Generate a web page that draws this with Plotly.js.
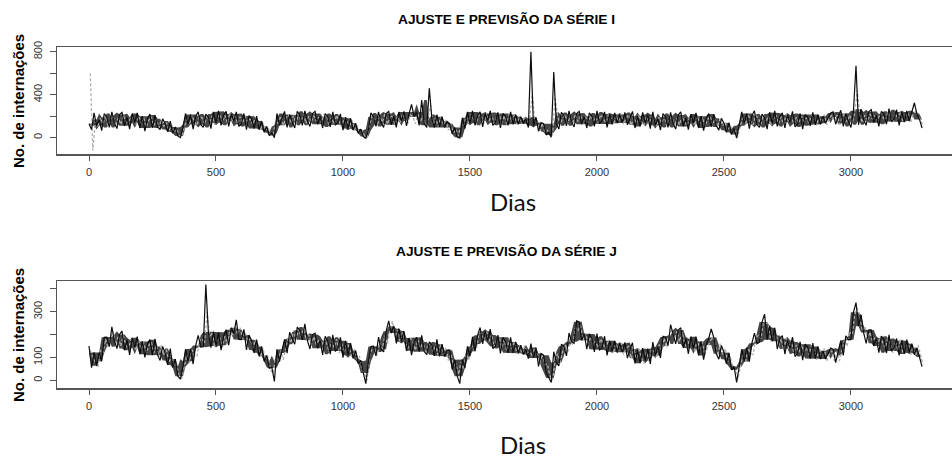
<!DOCTYPE html>
<html>
<head>
<meta charset="utf-8">
<script src="https://cdn.plot.ly/plotly-3.0.1.min.js"></script>
<style>
  html, body { margin: 0; padding: 0; background: #ffffff; }
  #chart { width: 952px; height: 462px; }
</style>
</head>
<body>
<div id="chart"></div>
<script>
// ---- Data (10-day sampling) ----
// Série I, observed (black), days 0,10,...,3280
const obsI = [
  130,75,230,110,170,65,225,190,95,240, 135,85,215,235,110,190,80,225,140,230,
  90,200,60,175,220,90,210,100,75,175, 130,55,155,40,100,15,0,
  95,225,125,215,80,200,240,120,95,220, 190,85,240,140,250,115,210,245,105,220,
  155,240,105,125,225,75,205,175,85,200, 75,155,50,105,20,45,0,
  225,115,185,245,95,215,145,90,245,210, 115,250,155,105,225,245,125,195,90,225,
  195,100,240,120,140,220,70,190,85,180, 70,135,40,80,10,-5,
  70,230,195,105,240,140,95,225,245,120, 200,95,240,155,245,110,220,310,195,240,
  115,350,130,95,460,175,95,215,100,195, 95,150,130,35,95,5,-5,
  185,85,240,135,250,115,205,240,100,225, 160,250,115,140,235,90,225,200,115,240,
  125,215,125,195,130,175,95,800,110,190, 60,140,130,25,50,5,
  610,130,80,235,205,110,250,150,100,225, 245,125,195,90,230,200,105,250,130,155,
  240,95,220,125,230,135,215,140,235,120, 185,245,90,200,105,235,135,
  215,85,240,115,175,70,225,190,95,235, 130,80,210,240,105,185,75,220,135,230,
  90,200,65,180,225,100,220,110,70,180, 135,50,140,30,85,-5,
  110,240,135,225,85,205,250,120,95,220, 185,80,235,130,250,105,195,230,90,210,
  145,245,100,125,225,80,215,190,110,235, 120,215,125,200,135,185,230,
  240,125,195,255,105,225,150,95,250,670, 120,265,165,115,240,260,140,210,105,245,
  220,125,270,150,175,260,115,240,145,250, 155,235,325,220,170,90
];
// Série I, fitted/forecast (grey), days 5,15,...,3285
const fitI = [
  600,-120,155,100,185,130,205,110,170,200, 110,185,125,210,150,115,200,180,120,200,
  130,190,100,160,195,110,170,90,165,105, 140,65,120,50,85,20,10,
  100,175,120,205,150,115,200,185,125,210, 145,205,120,185,220,140,210,135,230,155,
  215,130,195,135,200,145,175,120,185,140, 70,140,70,100,20,35,150,
  135,200,115,180,215,135,205,130,225,155, 215,135,200,145,205,155,190,140,215,210,
  115,190,125,210,145,105,185,160,90,165, 75,115,50,70,15,5,
  125,205,170,115,200,145,220,125,185,210, 120,200,140,225,165,130,215,195,130,215,
  145,205,115,175,300,125,185,105,195,115, 165,70,120,45,75,15,150,
  115,195,135,220,165,130,215,195,135,225, 155,215,130,190,220,140,205,130,220,150,
  210,125,190,130,195,140,170,400,170,140, 65,135,60,70,20,10,
  380,205,120,180,215,135,200,125,220,150, 210,130,195,140,205,155,190,140,215,180,
  140,215,180,120,205,150,220,125,185,210, 115,190,130,210,150,115,200,
  125,200,165,105,190,135,205,110,170,195, 105,180,120,205,145,110,195,175,115,200,
  130,190,105,165,200,120,180,100,175,110, 145,65,115,40,65,10,
  115,190,130,215,155,120,205,185,125,210, 140,200,115,175,210,130,195,120,215,145,
  205,125,190,135,200,150,185,135,210,175, 115,200,145,215,120,180,210,
  150,210,125,185,225,145,210,135,230,440, 220,140,210,155,220,170,205,155,230,195,
  160,235,200,140,225,170,240,145,205,230, 140,215,250,200,165,100
];
// Série J, observed (black), days 0,10,...,3280
const obsJ = [
  150,55,122,63,121,83,188,189,147,234, 171,139,200,215,132,177,111,186,144,191,
  114,170,100,159,178,110,182,111,87,148, 118,67,139,55,93,18,5,
  60,136,83,138,71,152,197,145,147,420, 211,143,213,151,210,132,192,221,154,230,
  204,265,179,178,223,133,198,174,120,178, 105,148,83,109,53,56,-5,
  136,82,131,179,119,210,183,158,233,219, 177,247,174,137,200,206,140,174,111,193,
  172,114,199,128,137,188,99,173,110,163, 96,130,73,87,32,-15,
  83,148,149,107,189,136,124,215,260,207, 237,161,226,169,216,129,185,110,169,188,
  125,197,126,112,168,153,107,179,105,158, 103,132,133,47,90,18,-15,
  91,53,148,106,190,127,197,231,159,215, 174,224,139,148,198,118,188,169,120,188,
  120,168,118,154,113,136,95,161,98,143, 61,117,110,35,10,-10,
  125,78,63,158,149,107,207,169,162,260, 256,175,204,136,203,182,124,204,133,142,
  193,109,173,125,173,121,160,123,166,97, 136,164,74,132,75,141,86,
  138,72,167,108,146,98,193,189,152,244, 196,159,220,230,142,182,116,191,139,191,
  109,170,90,154,183,225,187,116,92,153, 123,72,120,45,60,-10,
  60,136,83,143,81,162,207,160,167,255, 290,178,238,171,230,137,182,196,114,175,
  139,189,104,118,168,88,158,144,95,163, 95,148,93,129,93,116,141,
  136,77,126,174,109,195,178,178,298,340, 237,287,209,162,220,221,150,184,121,193,
  177,119,199,128,142,183,109,173,115,178, 121,160,113,142,102,60
];
// Série J, fitted/forecast (grey), days 5,15,...,3285
const fitJ = [
  132,100,81,55,131,118,180,143,189,214, 155,195,149,195,154,133,179,162,131,177,
  135,166,120,151,167,119,153,103,155,108, 134,76,110,62,70,20,10,
  60,110,79,135,109,103,174,182,161,300, 185,211,145,176,187,144,193,158,225,193,
  239,201,230,182,211,171,182,142,177,146, 100,141,93,100,43,30,100,
  85,131,90,141,187,164,218,178,225,188, 234,176,200,157,191,156,177,142,182,166,
  125,171,143,180,118,159,122,172,141,100, 136,93,105,43,30,0,
  112,137,136,110,166,138,195,158,219,259, 190,220,169,210,169,138,184,172,131,177,
  140,171,115,156,167,124,158,108,160,113, 144,86,115,67,70,25,80,
  50,115,89,155,134,133,204,207,176,217, 170,201,145,176,192,144,178,128,180,138,
  169,116,155,117,151,116,137,102,142,116, 75,116,68,70,20,0,
  85,116,80,126,157,119,178,153,230,218, 239,176,205,162,191,156,172,142,182,156,
  137,177,151,120,161,128,165,113,139,149, 95,135,94,140,99,73,124,
  87,137,126,100,156,133,185,143,194,224, 180,215,169,210,164,138,184,167,126,177,
  130,166,110,146,172,190,158,108,160,113, 139,81,105,52,45,5,
  60,110,79,140,119,113,184,197,181,252, 250,246,170,196,207,149,183,133,185,138,
  174,121,155,122,156,126,142,112,152,131, 90,141,103,140,83,114,129,
  85,126,85,136,177,149,213,198,290,315, 285,216,235,182,211,171,187,152,192,166,
  142,182,161,120,171,133,180,118,149,169, 110,150,109,155,104,70
];

const dayStep = 10;
const fitOffset = 5;
const daysObs = obsI.map((_, i) => i * dayStep);
const daysFit = fitI.map((_, i) => i * dayStep + fitOffset);

const xTickVals = [0, 500, 1000, 1500, 2000, 2500, 3000];
const xTickText = ['0', '500', '1000', '1500', '2000', '2500', '3000'];
const yTickValsI = [0, 200, 400, 600, 800];
const yTickTextI = ['0', '', '400', '', '800'];
const yTickValsJ = [0, 100, 200, 300, 400];
const yTickTextJ = ['0', '100', '', '300', ''];

const titleI = 'AJUSTE E PREVISÃO DA SÉRIE I';
const titleJ = 'AJUSTE E PREVISÃO DA SÉRIE J';
const yTitle = 'No. de internações';
const xTitle = 'Dias';

// Local spread of the observed series (2nd highest / 2nd lowest in a 5-sample window),
// used to shade the dense daily band the way the original daily plot looks.
function envelope(arr) {
  const hi = [], lo = [];
  for (let i = 0; i < arr.length; i++) {
    const w = arr.slice(Math.max(0, i - 2), Math.min(arr.length, i + 3)).slice().sort((a, b) => a - b);
    hi.push(w.length > 2 ? w[w.length - 2] : w[w.length - 1]);
    lo.push(w.length > 2 ? w[1] : w[0]);
  }
  return { hi, lo };
}
const envI = envelope(obsI);
const envJ = envelope(obsJ);

// ---- Styling ----
const FONT = 'Liberation Sans, Arial, Helvetica, sans-serif';
const AXCOL = '#555555';
const obsLine = { color: '#0d0d0d', width: 1.2 };
const fitLine = { color: '#b0b0b0', width: 1.3, dash: '3px,2px' };
const bandFill = 'rgba(50,50,50,0.9)';

function bandTraces(env, xa, ya) {
  return [
    { x: daysObs, y: env.lo, type: 'scatter', mode: 'lines', line: { width: 0, color: 'rgba(0,0,0,0)' }, xaxis: xa, yaxis: ya, hoverinfo: 'skip', showlegend: false },
    { x: daysObs, y: env.hi, type: 'scatter', mode: 'lines', line: { width: 0, color: 'rgba(0,0,0,0)' }, fill: 'tonexty', fillcolor: bandFill, xaxis: xa, yaxis: ya, hoverinfo: 'skip', showlegend: false }
  ];
}

const traces = [
  ...bandTraces(envI, 'x', 'y'),
  { x: daysFit, y: fitI, type: 'scatter', mode: 'lines', line: fitLine, xaxis: 'x', yaxis: 'y', name: 'Ajuste I', hoverinfo: 'x+y' },
  { x: daysObs, y: obsI, type: 'scatter', mode: 'lines', line: obsLine, xaxis: 'x', yaxis: 'y', name: 'Série I', hoverinfo: 'x+y' },
  ...bandTraces(envJ, 'x2', 'y2'),
  { x: daysFit, y: fitJ, type: 'scatter', mode: 'lines', line: fitLine, xaxis: 'x2', yaxis: 'y2', name: 'Ajuste J', hoverinfo: 'x+y' },
  { x: daysObs, y: obsJ, type: 'scatter', mode: 'lines', line: obsLine, xaxis: 'x2', yaxis: 'y2', name: 'Série J', hoverinfo: 'x+y' }
];

const H = 462, L = 57, W = 952 - L;
const py = p => (H - p) / H;       // pixel row -> paper y
const px = p => (p - L) / W;       // pixel column -> paper x

function xAxis(anchor) {
  return {
    anchor: anchor, domain: [0, 1], range: [-126, 3398],
    tickmode: 'array', tickvals: xTickVals, ticktext: xTickText,
    ticks: 'outside', ticklen: 5, tickwidth: 1, tickcolor: AXCOL,
    showline: true, linecolor: AXCOL, linewidth: 1.5, mirror: true,
    showgrid: false, zeroline: false, ticklabelstandoff: 2,
    tickfont: { family: FONT, size: 11, color: '#333333' }
  };
}
function yAxis(anchor, dom, rng, tv, tt) {
  return {
    anchor: anchor, domain: dom, range: rng,
    tickmode: 'array', tickvals: tv, ticktext: tt, tickangle: -90,
    ticks: 'outside', ticklen: 6, tickwidth: 1, tickcolor: AXCOL,
    showline: true, linecolor: AXCOL, linewidth: 1.5, mirror: false,
    showgrid: false, zeroline: false, ticklabelstandoff: 3,
    tickfont: { family: FONT, size: 11, color: '#333333' }
  };
}

const layout = {
  width: 952, height: 462,
  margin: { l: L, r: 0, t: 0, b: 0 },
  paper_bgcolor: '#ffffff', plot_bgcolor: '#ffffff',
  showlegend: false,
  xaxis: xAxis('y'),
  yaxis: yAxis('x', [py(154), py(47)], [-152, 844], yTickValsI, yTickTextI),
  xaxis2: xAxis('y2'),
  yaxis2: yAxis('x2', [py(388), py(281)], [-34, 435], yTickValsJ, yTickTextJ),
  annotations: [
    { text: '<b>' + titleI + '</b>', xref: 'paper', yref: 'paper', x: px(506), y: py(20), xanchor: 'center', yanchor: 'middle', showarrow: false, font: { family: FONT, size: 13.7, color: '#000' } },
    { text: '<b>' + titleJ + '</b>', xref: 'paper', yref: 'paper', x: px(506), y: py(252), xanchor: 'center', yanchor: 'middle', showarrow: false, font: { family: FONT, size: 13.7, color: '#000' } },
    { text: '<b>' + yTitle + '</b>', xref: 'paper', yref: 'paper', x: px(19), y: py(101), xanchor: 'center', yanchor: 'middle', textangle: -90, showarrow: false, font: { family: FONT, size: 15, color: '#000' } },
    { text: '<b>' + yTitle + '</b>', xref: 'paper', yref: 'paper', x: px(19), y: py(335), xanchor: 'center', yanchor: 'middle', textangle: -90, showarrow: false, font: { family: FONT, size: 15, color: '#000' } },
    { text: xTitle, xref: 'paper', yref: 'paper', x: px(513), y: py(202), xanchor: 'center', yanchor: 'middle', showarrow: false, font: { family: 'Lato, Open Sans, sans-serif', size: 24, color: '#111' } },
    { text: xTitle, xref: 'paper', yref: 'paper', x: px(523), y: py(461), xanchor: 'center', yanchor: 'bottom', showarrow: false, font: { family: 'Lato, Open Sans, sans-serif', size: 24, color: '#111' } }
  ]
};

Plotly.newPlot('chart', traces, layout, { staticPlot: true, displayModeBar: false });
</script>
</body>
</html>
